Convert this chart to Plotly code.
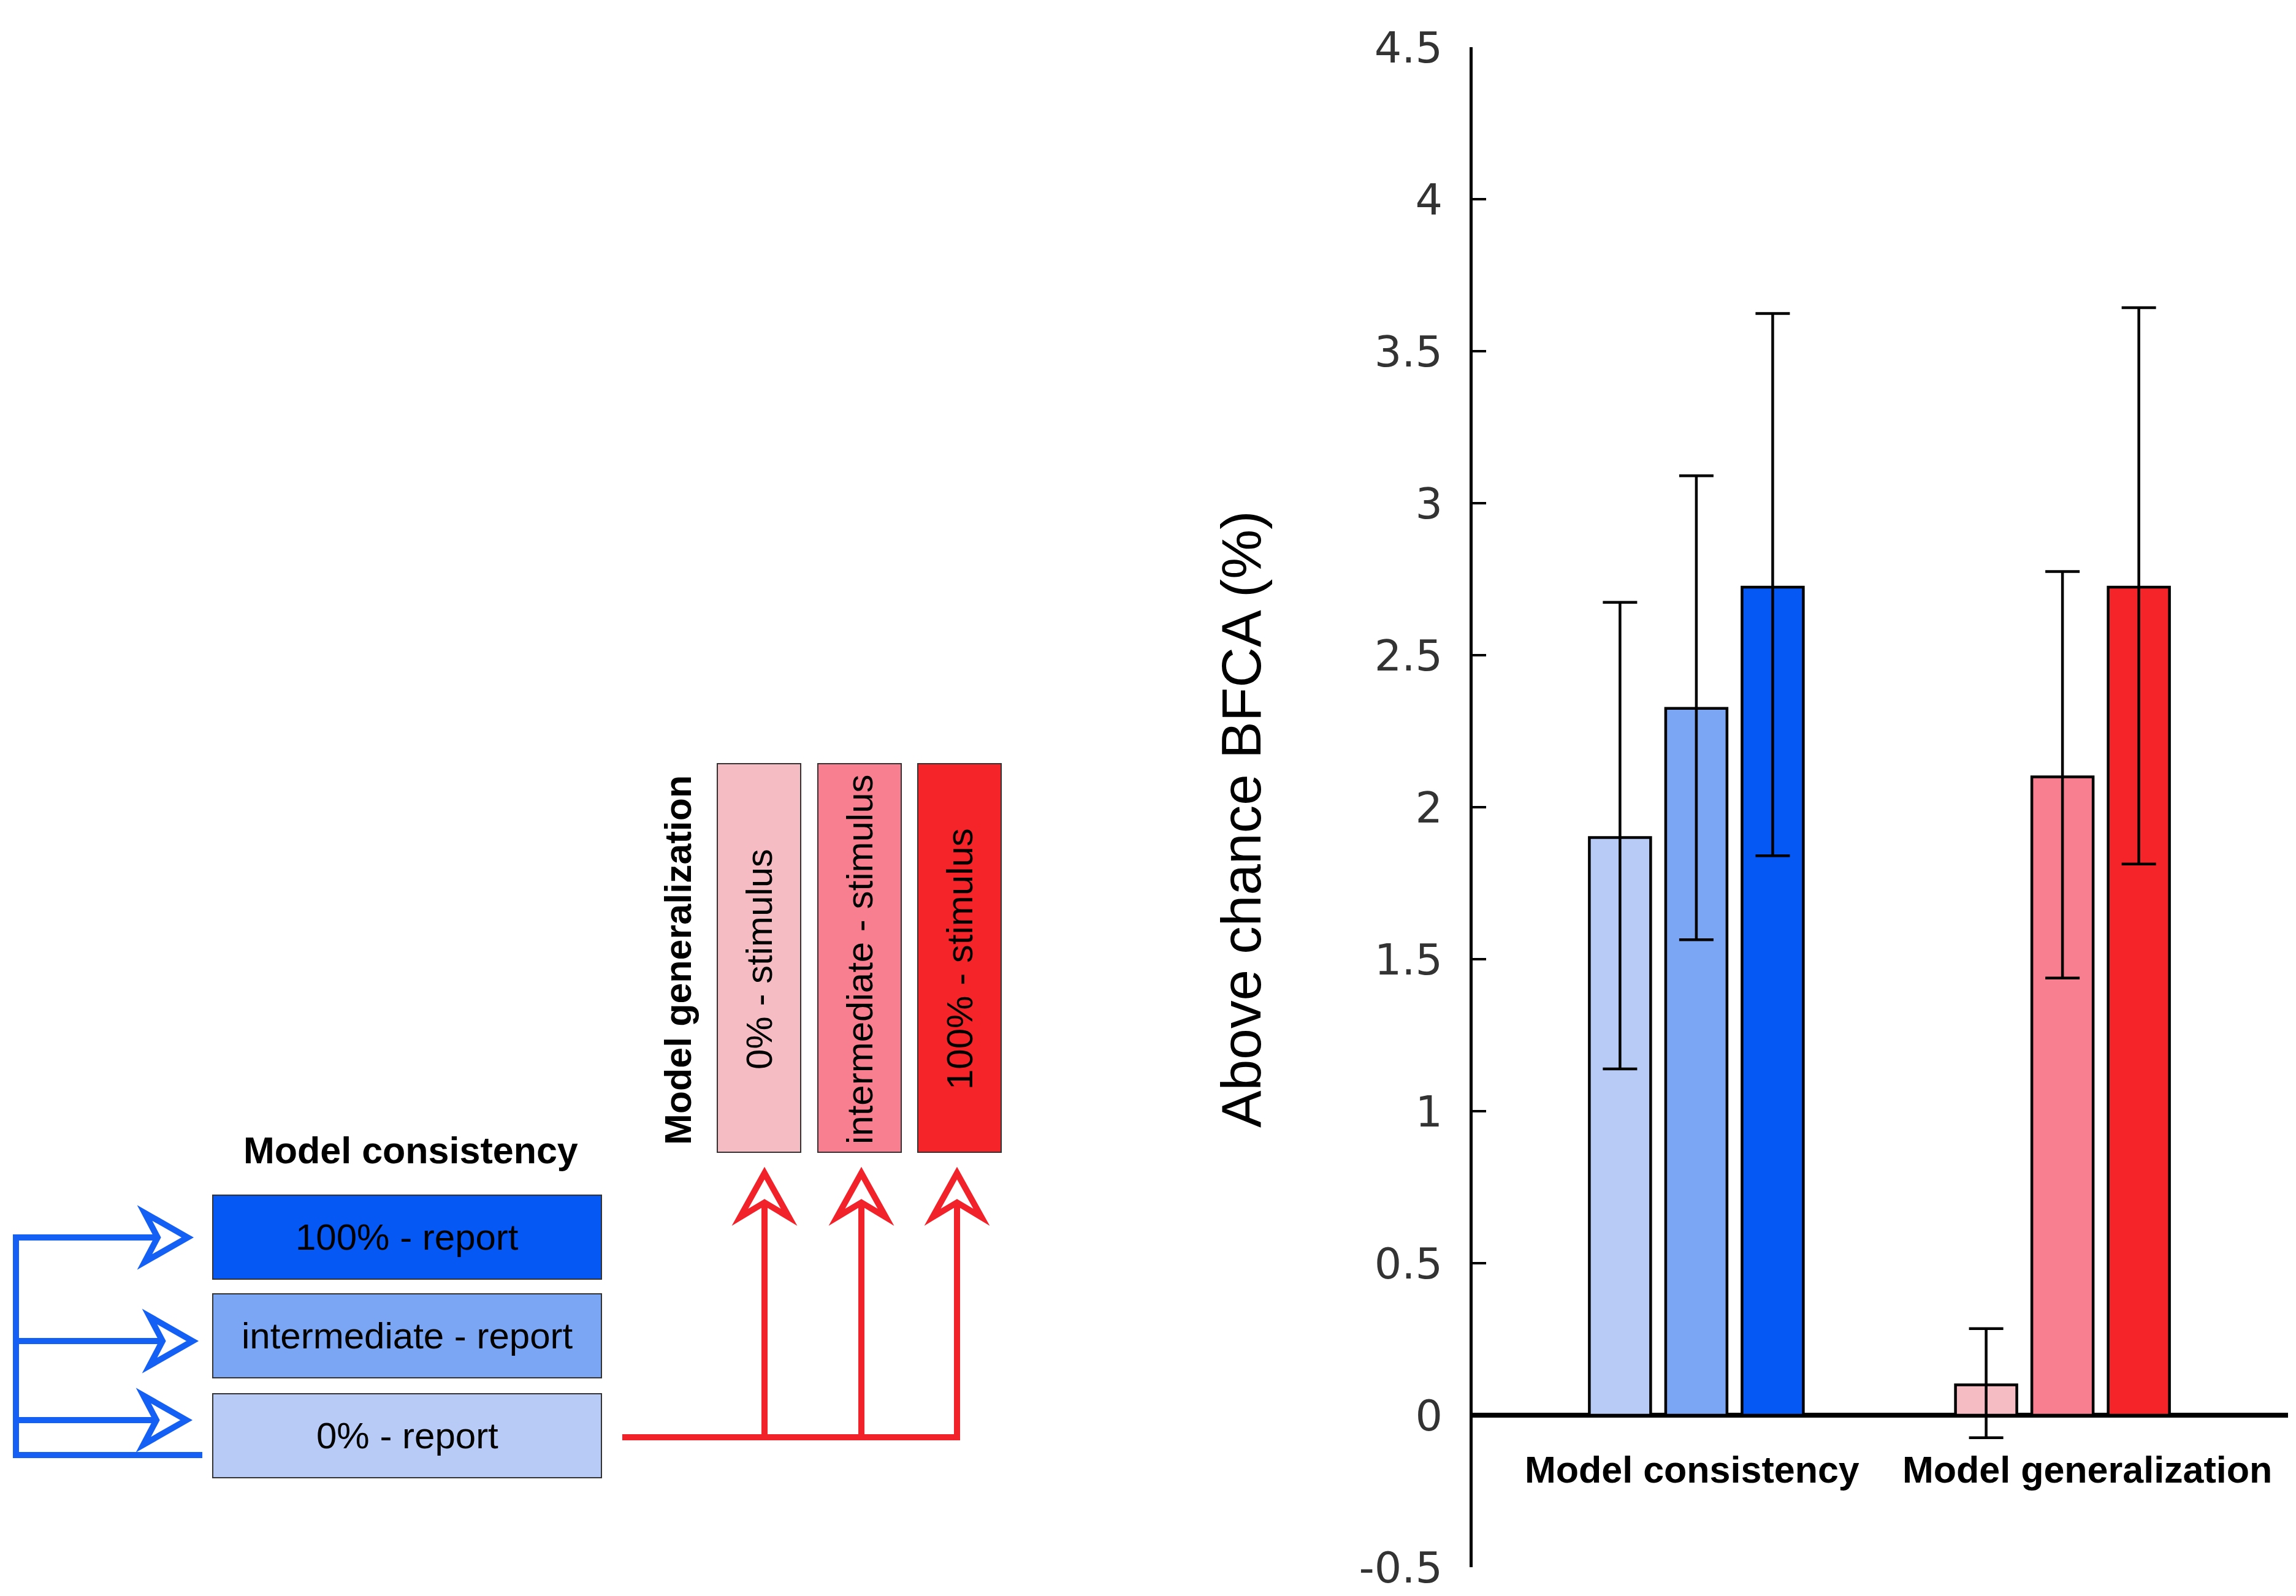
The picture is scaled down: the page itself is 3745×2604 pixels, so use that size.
import plotly.graph_objects as go

W, H = 3745, 2604
OFF = 8  # default page margin of the html body

# ---------------- data ----------------
groups = ["Model consistency", "Model generalization"]
levels = ["0%", "intermediate", "100%"]
mean_0 = [1.90, 0.10]
mean_int = [2.325, 2.10]
mean_100 = [2.724, 2.724]
err_up_0 = [0.774, 0.185]
err_up_int = [0.765, 0.675]
err_up_100 = [0.900, 0.919]
err_dn_0 = [0.761, 0.174]
err_dn_int = [0.761, 0.662]
err_dn_100 = [0.884, 0.911]
y_tickvals = [-0.5, 0, 0.5, 1, 1.5, 2, 2.5, 3, 3.5, 4, 4.5]
y_ticktext = ["-0.5", "0", "0.5", "1", "1.5", "2", "2.5", "3", "3.5", "4", "4.5"]
blue_colors = ["#b8cbf6", "#7aa6f4", "#0558f4"]
red_colors = ["#f5bcc3", "#f77f8f", "#f42428"]
report_labels = ["100% - report", "intermediate - report", "0% - report"]
report_colors = ["#0558f4", "#7aa6f4", "#b8cbf6"]
stimulus_labels = ["0% - stimulus", "intermediate - stimulus", "100% - stimulus"]
y_title = "Above chance BFCA (%)"

means = [mean_0, mean_int, mean_100]
ups = [err_up_0, err_up_int, err_up_100]
dns = [err_dn_0, err_dn_int, err_dn_100]

SANS = "Liberation Sans, Arial, Helvetica, sans-serif"
BLUE_LINE = "#1460f5"
RED_LINE = "#f2222a"


def px(x):
    return (x - OFF) / W


def py(y):
    return 1 - (y - OFF) / H


fig = go.Figure()
for i, lev in enumerate(levels):
    fig.add_trace(go.Bar(
        x=groups, y=means[i], name=lev,
        marker=dict(color=[blue_colors[i], red_colors[i]],
                    line=dict(color="black", width=4.5)),
        error_y=dict(type="data", symmetric=False, array=ups[i], arrayminus=dns[i],
                     color="black", thickness=4.5, width=28),
    ))

shapes = []
annotations = []

# y axis title
annotations.append(dict(text=y_title, x=px(2024), y=py(1337), xref="paper", yref="paper",
                        showarrow=False, textangle=-90, xanchor="center", yanchor="middle",
                        font=dict(family=SANS, size=91, color="black")))

# x category labels
for g, shift in zip(groups, [-7, 40]):
    annotations.append(dict(text="<b>" + g + "</b>", x=g, xref="x", y=py(2398), yref="paper",
                            xshift=shift, showarrow=False, xanchor="center", yanchor="middle",
                            font=dict(family=SANS, size=61, color="black")))

# ---------------- left diagram ----------------
# report boxes
box_tops = [1950, 2111, 2274]
for lab, col, top in zip(report_labels, report_colors, box_tops):
    shapes.append(dict(type="rect", xref="paper", yref="paper", x0=px(347), x1=px(981),
                       y0=py(top + 137), y1=py(top), fillcolor=col,
                       line=dict(color="#333333", width=2)))
    annotations.append(dict(text=lab, x=px(664), y=py(top + 68), xref="paper", yref="paper",
                            showarrow=False, xanchor="center", yanchor="middle",
                            font=dict(family=SANS, size=60, color="black")))
annotations.append(dict(text="<b>Model consistency</b>", x=px(670), y=py(1877), xref="paper",
                        yref="paper", showarrow=False, xanchor="center", yanchor="middle",
                        font=dict(family=SANS, size=61, color="black")))

# stimulus boxes
stim_lefts = [1170, 1334, 1497]
for lab, col, left in zip(stimulus_labels, red_colors, stim_lefts):
    shapes.append(dict(type="rect", xref="paper", yref="paper", x0=px(left), x1=px(left + 136),
                       y0=py(1880), y1=py(1246), fillcolor=col,
                       line=dict(color="#333333", width=2)))
    annotations.append(dict(text=lab, x=px(left + 68), y=py(1565), xref="paper", yref="paper",
                            showarrow=False, textangle=-90, xanchor="center", yanchor="middle",
                            font=dict(family=SANS, size=60, color="black")))
annotations.append(dict(text="<b>Model generalization</b>", x=px(1106), y=py(1567), xref="paper",
                        yref="paper", showarrow=False, textangle=-90, xanchor="center",
                        yanchor="middle", font=dict(family=SANS, size=61, color="black")))


def pth(points, close=False):
    s = "M " + " L ".join(f"{px(x):.6f},{py(y):.6f}" for x, y in points)
    return s + (" Z" if close else "")


# blue connector
shapes.append(dict(type="path", xref="paper", yref="paper",
                   path=pth([(26, 2014), (26, 2374), (330, 2374)]),
                   line=dict(color=BLUE_LINE, width=10)))
for ya, tip in [(2019, 306), (2188, 314), (2317, 304)]:
    shapes.append(dict(type="path", xref="paper", yref="paper",
                       path=pth([(21, ya), (tip - 47, ya)]),
                       line=dict(color=BLUE_LINE, width=10)))
    shapes.append(dict(type="path", xref="paper", yref="paper",
                       path=pth([(tip, ya), (tip - 70, ya - 40), (tip - 49, ya),
                                 (tip - 70, ya + 40)], close=True),
                       fillcolor="rgba(0,0,0,0)", line=dict(color=BLUE_LINE, width=10)))

# red connector
shapes.append(dict(type="path", xref="paper", yref="paper",
                   path=pth([(1015, 2345), (1561, 2345), (1561, 1962)]),
                   line=dict(color=RED_LINE, width=10)))
for xa in [1247, 1405, 1561]:
    shapes.append(dict(type="path", xref="paper", yref="paper",
                       path=pth([(xa, 2350), (xa, 1962)]),
                       line=dict(color=RED_LINE, width=10)))
    shapes.append(dict(type="path", xref="paper", yref="paper",
                       path=pth([(xa, 1914), (xa - 40, 1986), (xa, 1962), (xa + 40, 1986)],
                                close=True),
                       fillcolor="rgba(0,0,0,0)", line=dict(color=RED_LINE, width=10)))

fig.update_layout(
    width=W, height=H, margin=dict(l=0, r=0, t=0, b=0, autoexpand=False),
    paper_bgcolor="white", plot_bgcolor="white",
    barmode="group", bargap=0.3745, bargroupgap=0.197, showlegend=False,
    xaxis=dict(domain=[px(2402), px(3732)], range=[-0.611, 1.616], type="category",
               showticklabels=False, showline=False, showgrid=False, zeroline=False, ticks="",
               automargin=False),
    yaxis=dict(domain=[py(2557), py(77)], range=[-0.5, 4.5],
               tickvals=y_tickvals, ticktext=y_ticktext,
               ticks="inside", ticklen=22, tickwidth=4, tickcolor="black",
               showline=True, linewidth=5, linecolor="black", showgrid=False,
               zeroline=True, zerolinewidth=8, zerolinecolor="black",
               tickfont=dict(family="DejaVu Sans", size=70, color="#333333"),
               ticklabelstandoff=30, automargin=False),
    shapes=shapes, annotations=annotations,
)

fig.write_html("out.html")
